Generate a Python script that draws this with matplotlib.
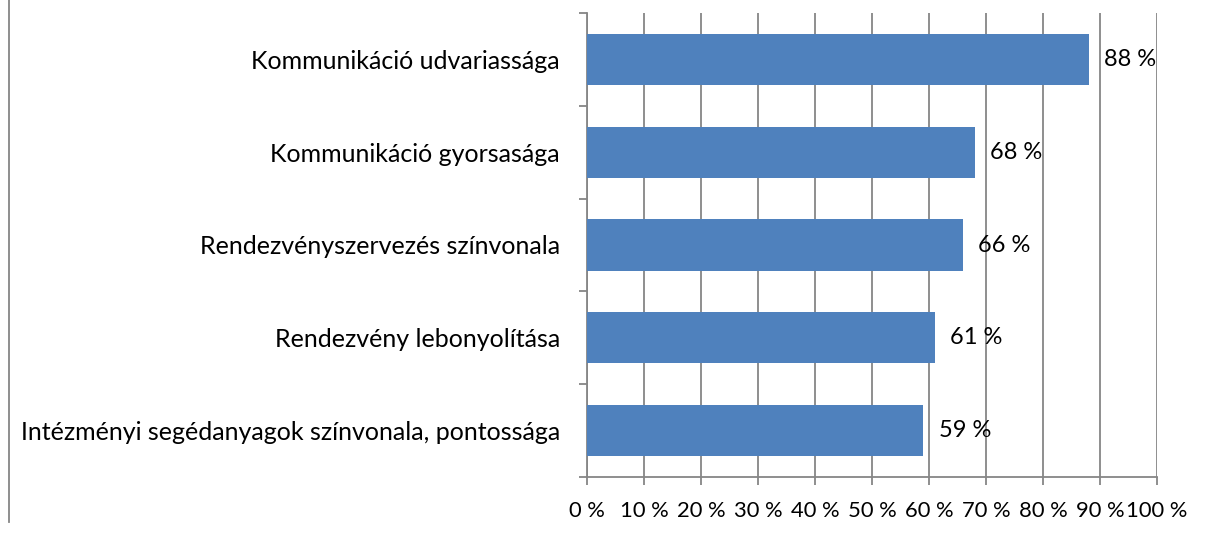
import matplotlib
matplotlib.use("Agg")
import matplotlib.pyplot as plt
from matplotlib.lines import Line2D
import numpy as np

categories = [
    "Kommunikáció udvariassága",
    "Kommunikáció gyorsasága",
    "Rendezvényszervezés színvonala",
    "Rendezvény lebonyolítása",
    "Intézményi segédanyagok színvonala, pontossága",
]
values = [88, 68, 66, 61, 59]
xticks = list(range(0, 101, 10))
xticklabels = [f"{v} %" for v in xticks]

plt.rcParams['font.family'] = ['Lato', 'DejaVu Sans']

W, H = 1214, 538
fig = plt.figure(figsize=(W / 100, H / 100), dpi=100)
left, right, top, bottom = 587, 1157, 13, 477
ax = fig.add_axes([left / W, 1 - bottom / H, (right - left) / W, (bottom - top) / H])

n = len(categories)
ypos = np.arange(n)[::-1]  # first category at top
ax.barh(ypos, values, height=0.55, color="#4F81BD", zorder=3)
ax.set_xlim(0, 100)
ax.set_ylim(-0.5, n - 0.5)

grid_c = "#868686"
ax.set_xticks(xticks)
ax.set_xticklabels(xticklabels, fontsize=15.8)
ax.xaxis.grid(True, color=grid_c, linewidth=1.3, zorder=0)
ax.tick_params(axis="x", direction="out", length=6, width=1.3, color=grid_c, pad=11)

ax.set_yticks(np.arange(-0.5, n, 1.0))
ax.set_yticklabels([])
ax.tick_params(axis="y", which="major", direction="out", length=6, width=1.3, color=grid_c)
ax.set_yticks(ypos, minor=True)
ax.set_yticklabels(categories, minor=True, fontsize=18)
ax.tick_params(axis="y", which="minor", length=0, pad=19.5)

for s in ["top", "right"]:
    ax.spines[s].set_visible(False)
for s in ["left", "bottom"]:
    ax.spines[s].set_color(grid_c)
    ax.spines[s].set_linewidth(1.3)

for y, v in zip(ypos, values):
    ax.annotate(f"{v} %", xy=(v, y), xytext=(11, 0), textcoords="offset points",
                va="center", ha="left", fontsize=17, zorder=5)

# chart border fragment on the left
fig.add_artist(Line2D([8.5 / W, 8.5 / W], [1, 1 - 522 / H], transform=fig.transFigure,
                      color=grid_c, linewidth=1.3))

fig.savefig("out.png", dpi=100)
